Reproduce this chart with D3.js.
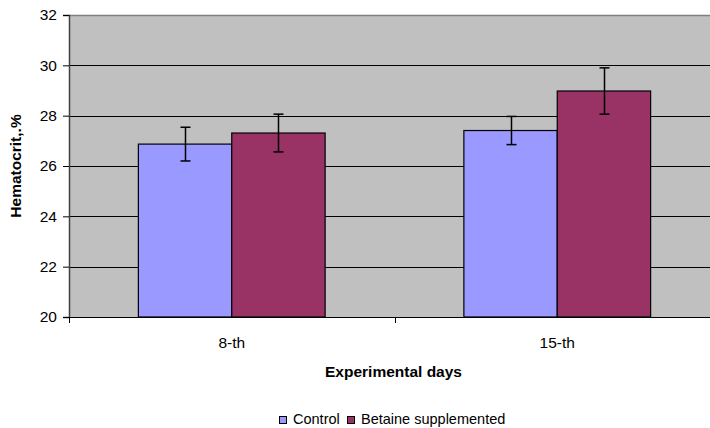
<!DOCTYPE html>
<html><head><meta charset="utf-8">
<script src="https://cdn.jsdelivr.net/npm/d3@7"></script>
<style>body{margin:0;background:#fff}svg{display:block}text{font-family:Arial,"Liberation Sans",sans-serif}</style>
</head><body><svg id="c" width="710" height="428"></svg>
<script>
const categories = ["8-th", "15-th"];
const seriesNames = ["Control", "Betaine supplemented"];
const control = [26.87, 27.41];
const betaine = [27.31, 28.98];
const controlErr = [0.67, 0.56];
const betaineErr = [0.75, 0.92];
const yTicks = [20, 22, 24, 26, 28, 30, 32];
const colors = ["#9999FF", "#993366"];

const svg = d3.select("#c");
const pL = 69, pR = 720, pT = 15, pB = 317;
const x = d3.scaleBand().domain(categories).range([pL, pR]).paddingInner(0).paddingOuter(0);
const xs = d3.scaleBand().domain(seriesNames).range([0, x.bandwidth()]).paddingInner(0).paddingOuter(0.743);
const y = d3.scaleLinear().domain([20, 32]).range([pB, pT]);

svg.append("rect").attr("x", pL).attr("y", pT).attr("width", pR - pL).attr("height", pB - pT).attr("fill", "#C0C0C0");
svg.append("line").attr("x1", pL).attr("x2", pR).attr("y1", pT + 0.5).attr("y2", pT + 0.5).attr("stroke", "#808080").attr("stroke-width", 1.5);

// gridlines
svg.append("g").selectAll("line").data(yTicks.filter(t => t > 20 && t < 32)).join("line")
  .attr("x1", pL).attr("x2", pR)
  .attr("y1", d => Math.round(y(d)) + 0.5).attr("y2", d => Math.round(y(d)) + 0.5)
  .attr("stroke", "#000").attr("stroke-width", 1);

const data = [];
categories.forEach((c, i) => {
  data.push({cat: c, s: seriesNames[0], v: control[i], e: controlErr[i], col: colors[0]});
  data.push({cat: c, s: seriesNames[1], v: betaine[i], e: betaineErr[i], col: colors[1]});
});

svg.append("g").selectAll("rect").data(data).join("rect")
  .attr("x", d => x(d.cat) + xs(d.s))
  .attr("y", d => y(d.v))
  .attr("width", xs.bandwidth())
  .attr("height", d => y(20) - y(d.v))
  .attr("fill", d => d.col).attr("stroke", "#000").attr("stroke-width", 1.2);

const eb = svg.append("g").attr("stroke", "#000").attr("stroke-width", 1.5);
data.forEach(d => {
  const cx = Math.round(x(d.cat) + xs(d.s) + xs.bandwidth() / 2) + 0.5;
  const y1 = y(d.v + d.e), y2 = y(d.v - d.e);
  eb.append("line").attr("x1", cx).attr("x2", cx).attr("y1", y1).attr("y2", y2);
  eb.append("line").attr("x1", cx - 5).attr("x2", cx + 5).attr("y1", y1).attr("y2", y1);
  eb.append("line").attr("x1", cx - 5).attr("x2", cx + 5).attr("y1", y2).attr("y2", y2);
});

// y axis
const yAxis = d3.axisLeft(y).tickValues(yTicks).tickSize(6).tickPadding(6).tickFormat(d3.format("d"));
const gy = svg.append("g").attr("transform", `translate(${pL},0)`).call(yAxis);
gy.select(".domain").attr("stroke", "#404040").attr("stroke-width", 1.5);
gy.selectAll(".tick line").attr("stroke", "#000");
gy.selectAll("text").attr("font-size", 15.5).attr("fill", "#000");

// x axis
const gx = svg.append("g").attr("transform", `translate(0,${pB})`);
gx.append("line").attr("x1", pL).attr("x2", pR).attr("y1", 0.5).attr("y2", 0.5).attr("stroke", "#000").attr("stroke-width", 1.2);
const xt = categories.map(c => x(c));
gx.selectAll(".xt").data(xt).join("line").attr("class", "xt")
  .attr("x1", d => Math.round(d) + 0.5).attr("x2", d => Math.round(d) + 0.5).attr("y1", 0).attr("y2", 6)
  .attr("stroke", "#000");
gx.selectAll(".xl").data(categories).join("text").attr("class", "xl")
  .attr("x", d => x(d) + x.bandwidth() / 2).attr("y", 31)
  .attr("text-anchor", "middle").attr("font-size", 15.5).attr("fill", "#000").text(d => d);

svg.append("text").attr("x", (pL + pR) / 2 - 1).attr("y", 377).attr("text-anchor", "middle")
  .attr("font-size", 15.5).attr("font-weight", "bold").text("Experimental days");

svg.append("text").attr("transform", `translate(21,${(pT + pB) / 2}) rotate(-90)`)
  .attr("text-anchor", "middle").attr("font-size", 15.5).attr("font-weight", "bold").text("Hematocrit,.%");

// legend
const lg = svg.append("g").attr("transform", "translate(279,416)");
const items = [{n: seriesNames[0], c: colors[0], dx: 0}, {n: seriesNames[1], c: colors[1], dx: 68}];
items.forEach(it => {
  lg.append("rect").attr("x", it.dx + 0.5).attr("y", 0.5).attr("width", 7).attr("height", 7).attr("fill", it.c).attr("stroke", "#000").attr("stroke-width", 1);
  lg.append("text").attr("x", it.dx + 14).attr("y", 8).attr("font-size", 14.5).attr("fill", "#000").text(it.n);
});
</script></body></html>
